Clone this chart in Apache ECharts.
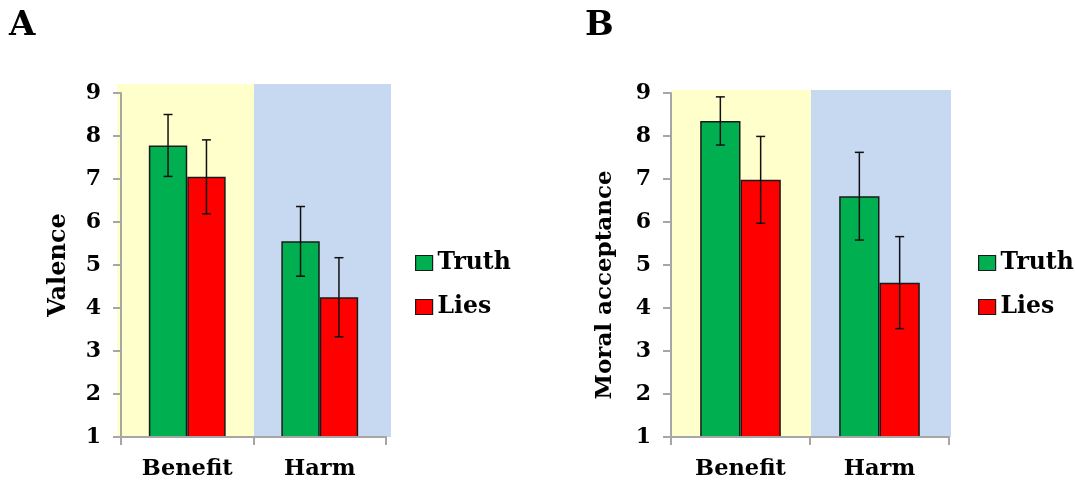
<!DOCTYPE html>
<html lang="en">
<head>
  <meta charset="utf-8">
  <title>Valence / Moral acceptance</title>
  <script src="https://cdn.jsdelivr.net/npm/echarts@6/dist/echarts.min.js"></script>
  <style>
    html, body { margin: 0; padding: 0; background: #fff; }
    #main { width: 1075px; height: 485px; }
  </style>
</head>
<body>
<div id="main"></div>
<script type="text/javascript">
// data
var categories = ['Benefit', 'Harm'];
var valenceTruth = [7.78, 5.55];
var valenceTruthErr = [0.72, 0.81];
var valenceLies = [7.05, 4.25];
var valenceLiesErr = [0.86, 0.92];
var acceptTruth = [8.35, 6.60];
var acceptTruthErr = [0.56, 1.02];
var acceptLies = [6.98, 4.59];
var acceptLiesErr = [1.01, 1.07];
var yMin = 1, yMax = 9, yStep = 1;

var FONT = 'DejaVu Serif';
var GREEN = '#00b050', RED = '#ff0000';
var BG_YELLOW = '#ffffcc', BG_BLUE = '#c6d9f0';
var AXIS_GREY = '#a6a6a6';
var GAP = 0.42;

function errData(means, errs) {
  var out = [];
  for (var i = 0; i < means.length; i++) out.push([i, means[i], errs[i]]);
  return out;
}

// side: -1 for the left bar (Truth), +1 for right bar (Lies)
function errRender(side) {
  return function (params, api) {
    var x = api.value(0), y = api.value(1), e = api.value(2);
    var band = api.size([1, 0])[0];
    var bw = band * (1 - GAP) / 2;
    var cx = api.coord([x, y])[0] + side * bw / 2;
    var top = api.coord([x, y + e])[1];
    var bot = api.coord([x, y - e])[1];
    var st = { stroke: '#111', lineWidth: 1.5 };
    return {
      type: 'group',
      children: [
        { type: 'line', shape: { x1: cx, y1: top, x2: cx, y2: bot }, style: st },
        { type: 'line', shape: { x1: cx - 4.5, y1: top, x2: cx + 4.5, y2: top }, style: st },
        { type: 'line', shape: { x1: cx - 4.5, y1: bot, x2: cx + 4.5, y2: bot }, style: st }
      ]
    };
  };
}

function mainX(gridIndex) {
  return {
    type: 'category', gridIndex: gridIndex, data: categories, z: 4,
    axisLine: { lineStyle: { color: AXIS_GREY, width: 2 } },
    axisTick: { show: true, length: 8, lineStyle: { color: AXIS_GREY, width: 2 } },
    axisLabel: { margin: 21, fontFamily: FONT, fontWeight: 'bold', fontSize: 22.5, color: '#000' }
  };
}
function mainY(gridIndex, name, size, gap, pad) {
  return {
    type: 'value', gridIndex: gridIndex, min: yMin, max: yMax, interval: yStep, z: 4,
    name: name, nameLocation: 'middle', nameRotate: 90, nameGap: gap,
    nameTextStyle: { fontFamily: FONT, fontWeight: 'bold', fontSize: size, color: '#000', padding: pad },
    axisLine: { show: true, lineStyle: { color: AXIS_GREY, width: 2 } },
    axisTick: { show: true, length: 8, lineStyle: { color: AXIS_GREY, width: 2 } },
    axisLabel: { margin: 20, fontFamily: FONT, fontWeight: 'bold', fontSize: 22, color: '#000' },
    splitLine: { show: false }
  };
}
function bgX(gridIndex) {
  return { type: 'category', gridIndex: gridIndex, data: categories, show: false };
}
function bgY(gridIndex) {
  return { type: 'value', gridIndex: gridIndex, min: 0, max: 1, show: false };
}
function bgSeries(axisIndex) {
  return {
    type: 'bar', xAxisIndex: axisIndex, yAxisIndex: axisIndex, silent: true, z: 0,
    barWidth: '100%',
    data: [{ value: 1, itemStyle: { color: BG_YELLOW } }, { value: 1, itemStyle: { color: BG_BLUE } }]
  };
}
function barSeries(name, color, data, axisIndex) {
  return {
    name: name, type: 'bar', xAxisIndex: axisIndex, yAxisIndex: axisIndex, z: 2,
    barGap: 0, barCategoryGap: (GAP * 100) + '%',
    itemStyle: { color: color, borderColor: '#1a1a1a', borderWidth: 1.5 },
    data: data
  };
}
function errSeries(side, means, errs, axisIndex) {
  return {
    type: 'custom', xAxisIndex: axisIndex, yAxisIndex: axisIndex, z: 3, silent: true,
    renderItem: errRender(side), data: errData(means, errs)
  };
}
function legendAt(left) {
  return {
    data: ['Truth', 'Lies'], orient: 'vertical', left: left, top: 251, padding: 0,
    itemWidth: 17, itemHeight: 15, itemGap: 20, icon: 'rect',
    itemStyle: { borderColor: '#1a1a1a', borderWidth: 1.2 },
    textStyle: { fontFamily: FONT, fontWeight: 'bold', fontSize: 23.5, lineHeight: 23, color: '#000' }
  };
}

var myChart = echarts.init(document.getElementById('main'));

var option = {
  backgroundColor: '#fff',
  animation: false,
  title: [
    { text: 'A', left: 9, top: 9, padding: 0, textStyle: { fontFamily: FONT, fontWeight: 'bold', fontSize: 34, color: '#000' } },
    { text: 'B', left: 585, top: 9, padding: 0, textStyle: { fontFamily: FONT, fontWeight: 'bold', fontSize: 34, color: '#000' } }
  ],
  legend: [legendAt(415), legendAt(978)],
  grid: [
    { left: 117, top: 84, width: 274, height: 353 },   // A background
    { left: 121, top: 93, width: 265, height: 344 },   // A main
    { left: 671, top: 90, width: 280, height: 347 },   // B background
    { left: 671, top: 93, width: 278, height: 344 }    // B main
  ],
  xAxis: [bgX(0), mainX(1), bgX(2), mainX(3)],
  yAxis: [
    bgY(0),
    mainY(1, 'Valence', 24, 50, [0, 0, 0, 0]),
    bgY(2),
    mainY(3, 'Moral acceptance', 23, 54, [0, 40, 0, 0])
  ],
  series: [
    bgSeries(0),
    bgSeries(2),
    barSeries('Truth', GREEN, valenceTruth, 1),
    barSeries('Lies', RED, valenceLies, 1),
    errSeries(-1, valenceTruth, valenceTruthErr, 1),
    errSeries(1, valenceLies, valenceLiesErr, 1),
    barSeries('Truth', GREEN, acceptTruth, 3),
    barSeries('Lies', RED, acceptLies, 3),
    errSeries(-1, acceptTruth, acceptTruthErr, 3),
    errSeries(1, acceptLies, acceptLiesErr, 3)
  ]
};

if (option && typeof option === "object") {
  myChart.setOption(option, true);
}
</script>
</body>
</html>
